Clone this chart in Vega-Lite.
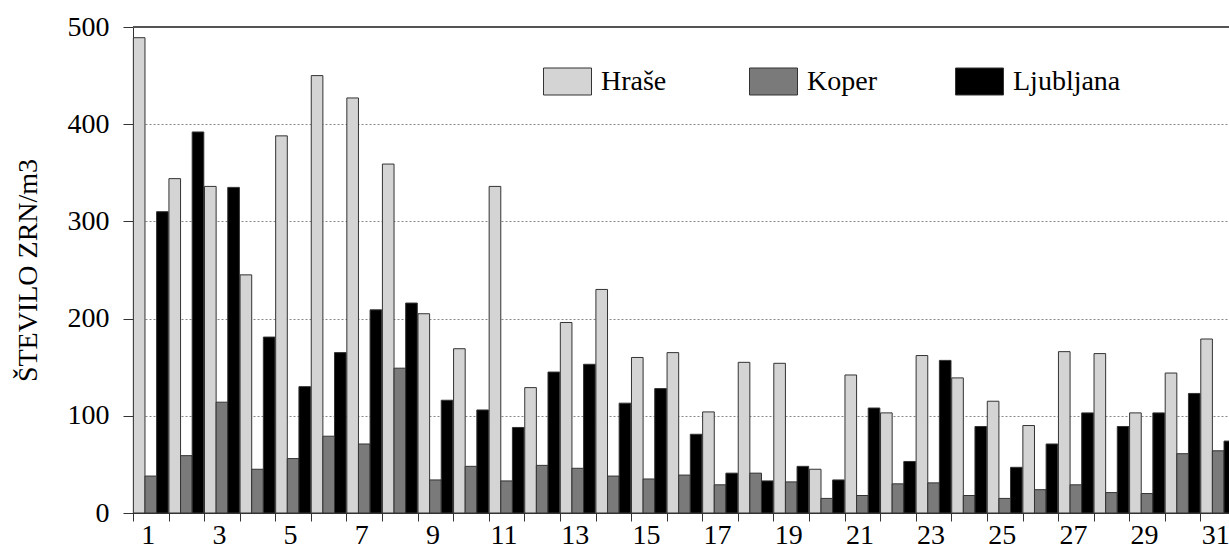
{
  "$schema": "https://vega.github.io/schema/vega-lite/v6.json",
  "width": 1096,
  "height": 486,
  "autosize": {"type": "none"},
  "padding": {"left": 133, "top": 27, "right": 0, "bottom": 35},
  "background": "white",
  "config": {
    "view": {"stroke": null},
    "font": "Liberation Serif"
  },
  "data": {
    "values": [
      {"day": 1, "site": "Hraše", "value": 489}, {"day": 1, "site": "Koper", "value": 38}, {"day": 1, "site": "Ljubljana", "value": 310},
      {"day": 2, "site": "Hraše", "value": 344}, {"day": 2, "site": "Koper", "value": 59}, {"day": 2, "site": "Ljubljana", "value": 392},
      {"day": 3, "site": "Hraše", "value": 336}, {"day": 3, "site": "Koper", "value": 114}, {"day": 3, "site": "Ljubljana", "value": 335},
      {"day": 4, "site": "Hraše", "value": 245}, {"day": 4, "site": "Koper", "value": 45}, {"day": 4, "site": "Ljubljana", "value": 181},
      {"day": 5, "site": "Hraše", "value": 388}, {"day": 5, "site": "Koper", "value": 56}, {"day": 5, "site": "Ljubljana", "value": 130},
      {"day": 6, "site": "Hraše", "value": 450}, {"day": 6, "site": "Koper", "value": 79}, {"day": 6, "site": "Ljubljana", "value": 165},
      {"day": 7, "site": "Hraše", "value": 427}, {"day": 7, "site": "Koper", "value": 71}, {"day": 7, "site": "Ljubljana", "value": 209},
      {"day": 8, "site": "Hraše", "value": 359}, {"day": 8, "site": "Koper", "value": 149}, {"day": 8, "site": "Ljubljana", "value": 216},
      {"day": 9, "site": "Hraše", "value": 205}, {"day": 9, "site": "Koper", "value": 34}, {"day": 9, "site": "Ljubljana", "value": 116},
      {"day": 10, "site": "Hraše", "value": 169}, {"day": 10, "site": "Koper", "value": 48}, {"day": 10, "site": "Ljubljana", "value": 106},
      {"day": 11, "site": "Hraše", "value": 336}, {"day": 11, "site": "Koper", "value": 33}, {"day": 11, "site": "Ljubljana", "value": 88},
      {"day": 12, "site": "Hraše", "value": 129}, {"day": 12, "site": "Koper", "value": 49}, {"day": 12, "site": "Ljubljana", "value": 145},
      {"day": 13, "site": "Hraše", "value": 196}, {"day": 13, "site": "Koper", "value": 46}, {"day": 13, "site": "Ljubljana", "value": 153},
      {"day": 14, "site": "Hraše", "value": 230}, {"day": 14, "site": "Koper", "value": 38}, {"day": 14, "site": "Ljubljana", "value": 113},
      {"day": 15, "site": "Hraše", "value": 160}, {"day": 15, "site": "Koper", "value": 35}, {"day": 15, "site": "Ljubljana", "value": 128},
      {"day": 16, "site": "Hraše", "value": 165}, {"day": 16, "site": "Koper", "value": 39}, {"day": 16, "site": "Ljubljana", "value": 81},
      {"day": 17, "site": "Hraše", "value": 104}, {"day": 17, "site": "Koper", "value": 29}, {"day": 17, "site": "Ljubljana", "value": 41},
      {"day": 18, "site": "Hraše", "value": 155}, {"day": 18, "site": "Koper", "value": 41}, {"day": 18, "site": "Ljubljana", "value": 33},
      {"day": 19, "site": "Hraše", "value": 154}, {"day": 19, "site": "Koper", "value": 32}, {"day": 19, "site": "Ljubljana", "value": 48},
      {"day": 20, "site": "Hraše", "value": 45}, {"day": 20, "site": "Koper", "value": 15}, {"day": 20, "site": "Ljubljana", "value": 34},
      {"day": 21, "site": "Hraše", "value": 142}, {"day": 21, "site": "Koper", "value": 18}, {"day": 21, "site": "Ljubljana", "value": 108},
      {"day": 22, "site": "Hraše", "value": 103}, {"day": 22, "site": "Koper", "value": 30}, {"day": 22, "site": "Ljubljana", "value": 53},
      {"day": 23, "site": "Hraše", "value": 162}, {"day": 23, "site": "Koper", "value": 31}, {"day": 23, "site": "Ljubljana", "value": 157},
      {"day": 24, "site": "Hraše", "value": 139}, {"day": 24, "site": "Koper", "value": 18}, {"day": 24, "site": "Ljubljana", "value": 89},
      {"day": 25, "site": "Hraše", "value": 115}, {"day": 25, "site": "Koper", "value": 15}, {"day": 25, "site": "Ljubljana", "value": 47},
      {"day": 26, "site": "Hraše", "value": 90}, {"day": 26, "site": "Koper", "value": 24}, {"day": 26, "site": "Ljubljana", "value": 71},
      {"day": 27, "site": "Hraše", "value": 166}, {"day": 27, "site": "Koper", "value": 29}, {"day": 27, "site": "Ljubljana", "value": 103},
      {"day": 28, "site": "Hraše", "value": 164}, {"day": 28, "site": "Koper", "value": 21}, {"day": 28, "site": "Ljubljana", "value": 89},
      {"day": 29, "site": "Hraše", "value": 103}, {"day": 29, "site": "Koper", "value": 20}, {"day": 29, "site": "Ljubljana", "value": 103},
      {"day": 30, "site": "Hraše", "value": 144}, {"day": 30, "site": "Koper", "value": 61}, {"day": 30, "site": "Ljubljana", "value": 123},
      {"day": 31, "site": "Hraše", "value": 179}, {"day": 31, "site": "Koper", "value": 64}, {"day": 31, "site": "Ljubljana", "value": 74}
    ]
  },
  "layer": [
    {
      "mark": {"type": "bar", "stroke": "#333333", "strokeWidth": 1},
      "encoding": {
        "x": {
          "field": "day",
          "type": "ordinal",
          "scale": {"paddingInner": 0, "paddingOuter": 0, "range": [0, 1103]},
          "axis": {
            "title": null,
            "labelAngle": 0,
            "labelExpr": "datum.value % 2 === 1 ? datum.label : ''",
            "labelOverlap": false,
            "labelOffset": -3,
            "tickBand": "extent",
            "tickSize": 8,
            "labelPadding": 0,
            "labelFontSize": 28,
            "labelFont": "Liberation Serif",
            "labelColor": "#000000",
            "domainColor": "#333333",
            "tickColor": "#333333",
            "grid": false
          }
        },
        "xOffset": {
          "field": "site",
          "type": "nominal",
          "sort": ["Hraše", "Koper", "Ljubljana"],
          "scale": {"paddingInner": 0, "paddingOuter": 0.03}
        },
        "y": {
          "field": "value",
          "type": "quantitative",
          "scale": {"domain": [0, 500], "nice": false},
          "axis": {
            "title": "ŠTEVILO ZRN/m3",
            "values": [0, 100, 200, 300, 400, 500],
            "tickSize": 10,
            "labelPadding": 14,
            "labelFontSize": 28,
            "labelFont": "Liberation Serif",
            "labelColor": "#000000",
            "titleFont": "Liberation Serif",
            "titleFontSize": 28,
            "titleFontWeight": "normal",
            "titleColor": "#000000",
            "titlePadding": 25,
            "grid": true,
            "gridDash": [2, 2],
            "gridColor": "#888888",
            "domainColor": "#333333",
            "tickColor": "#333333"
          }
        },
        "color": {
          "field": "site",
          "type": "nominal",
          "sort": ["Hraše", "Koper", "Ljubljana"],
          "scale": {"domain": ["Hraše", "Koper", "Ljubljana"], "range": ["#d4d4d4", "#7a7a7a", "#000000"]},
          "legend": {
            "title": null,
            "orient": "none",
            "legendX": 410,
            "legendY": 30,
            "direction": "horizontal",
            "gridAlign": "all",
            "columnPadding": 38,
            "padding": 0,
            "symbolType": "M-1,-0.5625H1V0.5625H-1Z",
            "symbolSize": 2304,
            "symbolStrokeColor": "#333333",
            "symbolStrokeWidth": 1,
            "symbolOpacity": 1,
            "labelFont": "Liberation Serif",
            "labelFontSize": 28,
            "labelColor": "#000000",
            "labelOffset": 9,
            "labelLimit": 300
          }
        }
      }
    },
    {
      "mark": {"type": "rule", "color": "#555555", "strokeWidth": 1},
      "encoding": {"y": {"datum": 500}}
    }
  ]
}
